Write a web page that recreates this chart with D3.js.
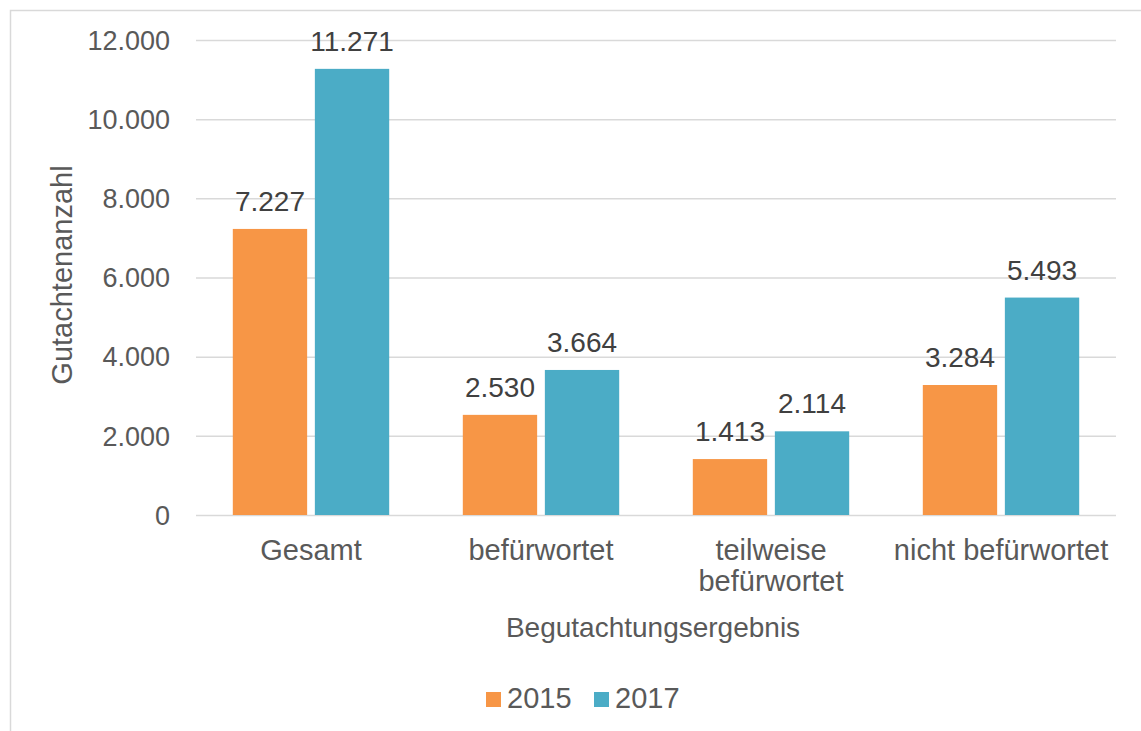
<!DOCTYPE html>
<html>
<head>
<meta charset="utf-8">
<script src="https://cdn.jsdelivr.net/npm/d3@7"></script>
<style>
  body { margin: 0; background: #fff; }
  text { font-family: "Liberation Sans", Arial, sans-serif; }
</style>
</head>
<body>
<svg width="1141" height="731"></svg>
<script>
// data
var categories = ["Gesamt", "befürwortet", "teilweise befürwortet", "nicht befürwortet"];
var catLines = [["Gesamt"], ["befürwortet"], ["teilweise", "befürwortet"], ["nicht befürwortet"]];
var series = ["2015", "2017"];
var values2015 = [7227, 2530, 1413, 3284];
var values2017 = [11271, 3664, 2114, 5493];
var yTicks = [0, 2000, 4000, 6000, 8000, 10000, 12000];

var colors = {"2015": "#F79646", "2017": "#4BACC6"};

var de = d3.formatLocale({decimal: ",", thousands: ".", grouping: [3], currency: ["", " €"]});
var fmt = de.format(",d");

var svg = d3.select("svg");

// chart area border (runs off the right and bottom)
svg.append("rect")
    .attr("x", 10.5).attr("y", 10.5)
    .attr("width", 1200).attr("height", 800)
    .attr("fill", "none")
    .attr("stroke", "#D9D9D9")
    .attr("stroke-width", 1.5);

var plotL = 196, plotR = 1116, plotT = 40, plotB = 515;

var x0 = d3.scaleBand().domain(categories).range([plotL, plotR]).padding(0);
var pad = x0.bandwidth() * 0.16;
var x1 = d3.scaleBand().domain(series)
    .range([pad, x0.bandwidth() - pad])
    .paddingInner(0.094);

var y = d3.scaleLinear().domain([0, 12000]).range([plotB, plotT]);

// gridlines + y ticks
var yAxis = svg.append("g")
    .attr("transform", "translate(" + plotL + ",0)")
    .call(d3.axisLeft(y).tickValues(yTicks).tickSize(-(plotR - plotL)).tickPadding(26).tickFormat(fmt));
yAxis.select(".domain").remove();
yAxis.selectAll(".tick line").attr("stroke", "#D9D9D9").attr("stroke-width", 1.5);
yAxis.selectAll(".tick text")
    .attr("fill", "#595959")
    .attr("font-size", 27)
    .attr("font-family", "Liberation Sans, Arial, sans-serif")
    .attr("dy", "0.34em");

// bars
var rows = categories.map(function(c, i) {
  return {cat: c, vals: [{s: "2015", v: values2015[i]}, {s: "2017", v: values2017[i]}]};
});

var groups = svg.append("g").selectAll("g")
    .data(rows)
    .enter().append("g")
    .attr("transform", function(d) { return "translate(" + x0(d.cat) + ",0)"; });

groups.selectAll("rect")
    .data(function(d) { return d.vals; })
    .enter().append("rect")
    .attr("x", function(d) { return x1(d.s); })
    .attr("y", function(d) { return y(d.v); })
    .attr("width", x1.bandwidth())
    .attr("height", function(d) { return y(0) - y(d.v); })
    .attr("fill", function(d) { return colors[d.s]; });

groups.selectAll("text.lbl")
    .data(function(d) { return d.vals; })
    .enter().append("text")
    .attr("class", "lbl")
    .attr("x", function(d) { return x1(d.s) + x1.bandwidth() / 2; })
    .attr("y", function(d) { return y(d.v) - 18; })
    .attr("text-anchor", "middle")
    .attr("font-size", 28)
    .attr("fill", "#404040")
    .text(function(d) { return fmt(d.v); });

// x axis labels
var xAxis = svg.append("g")
    .attr("transform", "translate(0," + plotB + ")")
    .call(d3.axisBottom(x0).tickSize(0).tickFormat(""));
xAxis.select(".domain").remove();
xAxis.selectAll(".tick text").remove();
xAxis.selectAll(".tick").each(function(c, i) {
  var t = d3.select(this).append("text")
      .attr("text-anchor", "middle")
      .attr("font-size", 29)
      .attr("font-family", "Liberation Sans, Arial, sans-serif")
      .attr("fill", "#595959");
  catLines[i].forEach(function(line, k) {
    t.append("tspan").attr("x", 0).attr("y", 45 + k * 31).text(line);
  });
});

// axis titles
svg.append("text")
    .attr("x", (plotL + plotR) / 2 - 3)
    .attr("y", 637)
    .attr("text-anchor", "middle")
    .attr("font-size", 28)
    .attr("fill", "#595959")
    .text("Begutachtungsergebnis");

svg.append("text")
    .attr("transform", "translate(72,275) rotate(-90)")
    .attr("text-anchor", "middle")
    .attr("font-size", 29)
    .attr("fill", "#595959")
    .text("Gutachtenanzahl");

// legend
var legend = svg.append("g").attr("transform", "translate(486,692)");
var lx = [0, 108];
series.forEach(function(s, i) {
  legend.append("rect")
      .attr("x", lx[i]).attr("y", 0)
      .attr("width", 15).attr("height", 15)
      .attr("fill", colors[s]);
  legend.append("text")
      .attr("x", lx[i] + 21).attr("y", 16)
      .attr("font-size", 29)
      .attr("fill", "#595959")
      .text(s);
});
</script>
</body>
</html>
